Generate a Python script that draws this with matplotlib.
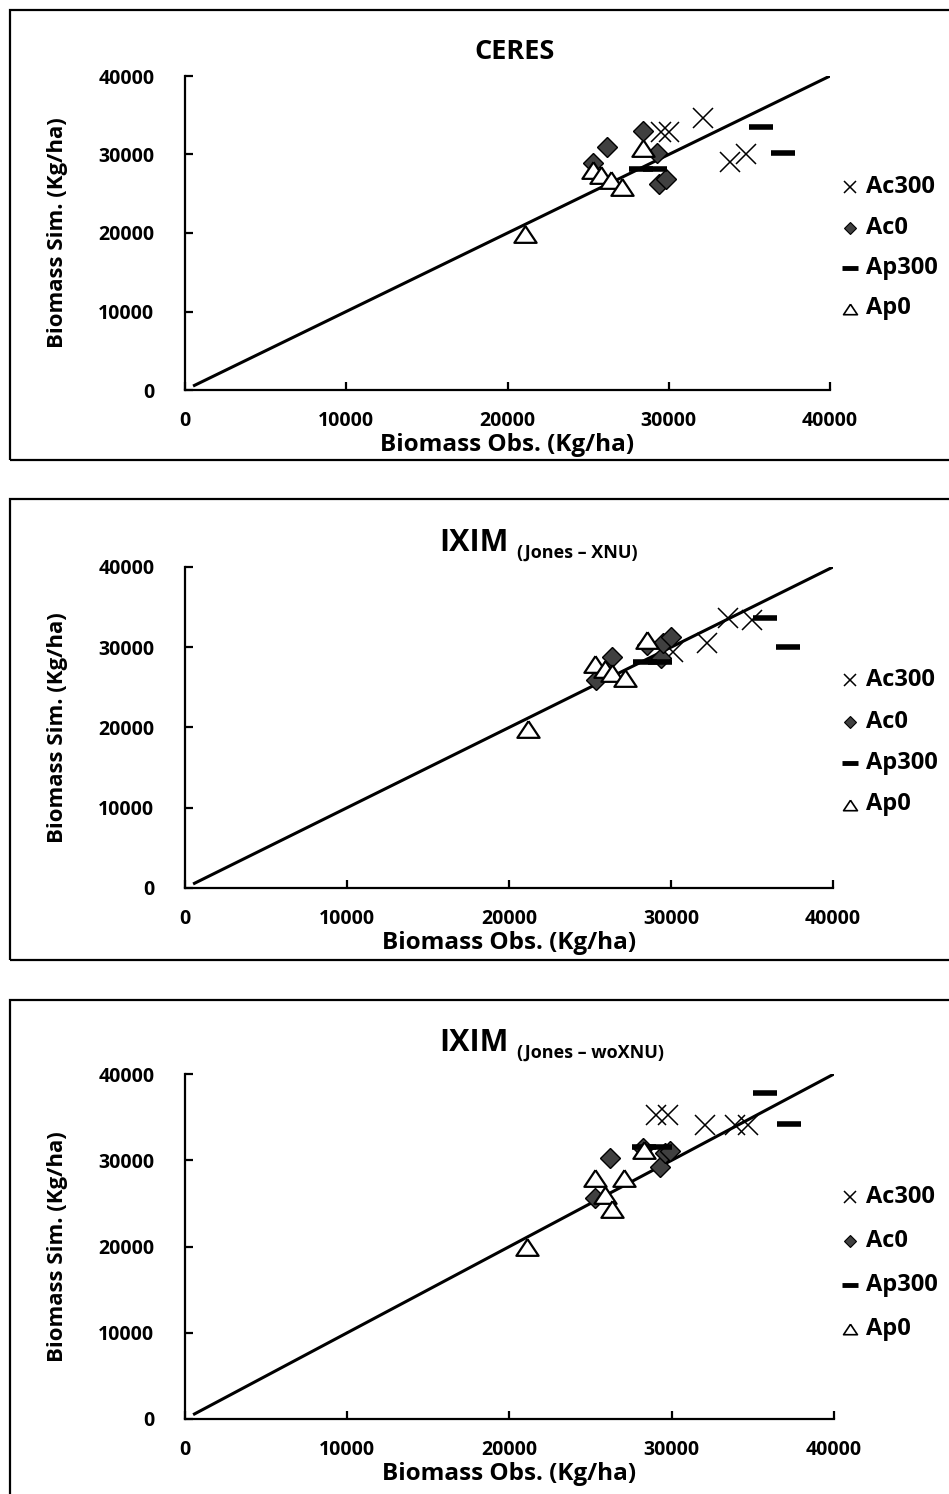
import matplotlib
matplotlib.use("Agg")
import matplotlib.pyplot as plt
from matplotlib.lines import Line2D
from matplotlib.patches import Rectangle

plt.rcParams['font.family'] = ['Open Sans', 'DejaVu Sans']
plt.rcParams['font.weight'] = 'bold'

W, H = 949, 1494

# ---- data (kg/ha): observed (x) vs simulated (y) biomass ----
series_names = ["Ac300", "Ac0", "Ap300", "Ap0"]

ceres_ac300_obs = [29500, 30000, 32100, 33800, 34800]
ceres_ac300_sim = [32900, 32900, 34600, 29100, 30100]
ceres_ac0_obs = [25300, 26200, 28400, 29300, 29400, 29800]
ceres_ac0_sim = [28900, 30950, 33000, 30200, 26300, 26900]
ceres_ap300_obs = [28300, 29150, 35700, 37100]
ceres_ap300_sim = [28150, 28150, 33500, 30200]
ceres_ap0_obs = [21100, 25300, 25800, 26400, 27100, 28400]
ceres_ap0_sim = [19900, 28000, 27400, 26700, 25900, 30850]

xnu_ac300_obs = [29400, 30100, 32200, 33500, 35000]
xnu_ac300_sim = [29700, 29400, 30500, 33650, 33400]
xnu_ac0_obs = [25400, 26350, 28500, 29400, 29500, 30000]
xnu_ac0_sim = [25900, 28800, 30300, 28650, 30550, 31300]
xnu_ap300_obs = [28400, 29300, 35800, 37200]
xnu_ap300_sim = [28150, 28150, 33650, 30050]
xnu_ap0_obs = [21150, 25300, 25900, 26350, 27150, 28500]
xnu_ap0_sim = [19800, 27900, 27300, 26800, 26150, 30900]

woxnu_ac300_obs = [29000, 29750, 32050, 33900, 34700]
woxnu_ac300_sim = [35200, 35200, 34050, 34050, 34050]
woxnu_ac0_obs = [25300, 26200, 28250, 29300, 29600, 29900]
woxnu_ac0_sim = [25600, 30300, 31450, 29250, 30800, 31100]
woxnu_ap300_obs = [28300, 29300, 35750, 37200]
woxnu_ap300_sim = [31500, 31500, 37750, 34250]
woxnu_ap0_obs = [21050, 25300, 25900, 26300, 27050, 28300]
woxnu_ap0_sim = [19950, 27900, 25950, 24400, 27900, 31200]

one_to_one = [500, 40000]
axis_ticks = [0, 10000, 20000, 30000, 40000]

panels = [
    dict(title="CERES", sub=None,
         data=[(ceres_ac300_obs, ceres_ac300_sim), (ceres_ac0_obs, ceres_ac0_sim),
               (ceres_ap300_obs, ceres_ap300_sim), (ceres_ap0_obs, ceres_ap0_sim)]),
    dict(title="IXIM", sub="(Jones \u2013 XNU)",
         data=[(xnu_ac300_obs, xnu_ac300_sim), (xnu_ac0_obs, xnu_ac0_sim),
               (xnu_ap300_obs, xnu_ap300_sim), (xnu_ap0_obs, xnu_ap0_sim)]),
    dict(title="IXIM", sub="(Jones \u2013 woXNU)",
         data=[(woxnu_ac300_obs, woxnu_ac300_sim), (woxnu_ac0_obs, woxnu_ac0_sim),
               (woxnu_ap300_obs, woxnu_ap300_sim), (woxnu_ap0_obs, woxnu_ap0_sim)]),
]

# ---- layout in pixels ----
# box: (left, top, right, bottom); axes: (left, top, right, bottom)
boxes = [(10, 10, 960, 460), (10, 499, 960, 960), (10, 1000, 960, 1510)]
axes_px = [(185, 76, 830, 390), (185, 567, 833, 888), (185, 1074, 834, 1419)]
title_y = [52, 543, 1043]
legend_y0 = [187, 680, 1197]
legend_dy = [40.5, 41.5, 44]

tri = [(0, 0.75), (-1, -0.75), (1, -0.75), (0, 0.75)]
styles = [
    dict(marker='x', ms=15, mew=1.1, color='black', mfc='none', mec='black'),
    dict(marker='D', ms=10, mew=1.0, mfc='#404040', mec='black'),
    dict(marker='_', ms=17, mew=4.0, mec='black'),
    dict(marker=tri, ms=16, mew=1.6, mfc='white', mec='black'),
]
legend_styles = [
    dict(marker='x', ms=9, mew=1.1, mfc='none', mec='black'),
    dict(marker='D', ms=6, mew=0.8, mfc='#404040', mec='black'),
    dict(marker='_', ms=12, mew=3.5, mec='black'),
    dict(marker=tri, ms=10, mew=1.2, mfc='white', mec='black'),
]


def fx(px):
    return px / W


def fy(py):
    return 1 - py / H


fig = plt.figure(figsize=(W / 100, H / 100), dpi=100)

for i, p in enumerate(panels):
    bl, bt, br, bb = boxes[i]
    fig.patches.append(Rectangle((fx(bl), fy(bb)), fx(br - bl), (bb - bt) / H,
                                 transform=fig.transFigure, fill=False,
                                 edgecolor='black', linewidth=1.6, zorder=0))
    al, at, ar, ab = axes_px[i]
    ax = fig.add_axes([fx(al), fy(ab), fx(ar - al), (ab - at) / H])
    ax.set_xlim(0, 40000)
    ax.set_ylim(0, 40000)
    ax.patch.set_alpha(0)
    for s in ('top', 'right'):
        ax.spines[s].set_visible(False)
    for s in ('left', 'bottom'):
        ax.spines[s].set_linewidth(1.6)
    ax.set_xticks(axis_ticks)
    ax.set_yticks(axis_ticks)
    ax.set_xticklabels([str(t) for t in axis_ticks])
    ax.set_yticklabels([str(t) for t in axis_ticks])
    ax.tick_params(direction='in', length=6, width=1.6, labelsize=14)
    ax.tick_params(axis='x', pad=15)
    ax.tick_params(axis='y', pad=22)
    for lab in ax.get_xticklabels() + ax.get_yticklabels():
        lab.set_fontweight('bold')

    ax.plot(one_to_one, one_to_one, color='black', lw=2.2, zorder=1,
            solid_capstyle='butt')

    for (xs, ys), st in zip(p['data'], styles):
        ax.plot(xs, ys, ls='none', zorder=3, clip_on=False, **st)

    # axis titles
    fig.text(fx((al + ar) / 2), fy(ab + 55), "Biomass Obs. (Kg/ha)",
             ha='center', va='center', fontsize=17.5, fontweight='bold')
    fig.text(fx(58), fy((at + ab) / 2), "Biomass Sim. (Kg/ha)",
             ha='center', va='center', rotation=90, fontsize=16, fontweight='bold')

    # panel title
    if p['sub'] is None:
        fig.text(fx(515), fy(title_y[i]), p['title'], ha='center', va='center',
                 fontsize=19.5, fontweight='bold')
    else:
        fig.text(fx(509), fy(title_y[i]), p['title'], ha='right', va='center',
                 fontsize=22, fontweight='bold')
        fig.text(fx(517), fy(title_y[i] + 10), p['sub'], ha='left', va='center',
                 fontsize=13, fontweight='bold')

    # legend
    for k, (name, st) in enumerate(zip(series_names, legend_styles)):
        yy = legend_y0[i] + k * legend_dy[i]
        fig.lines.append(Line2D([fx(850)], [fy(yy)], transform=fig.transFigure,
                                ls='none', **st))
        fig.text(fx(866), fy(yy), name, ha='left', va='center',
                 fontsize=17, fontweight='bold')

fig.savefig("out.png", dpi=100)
